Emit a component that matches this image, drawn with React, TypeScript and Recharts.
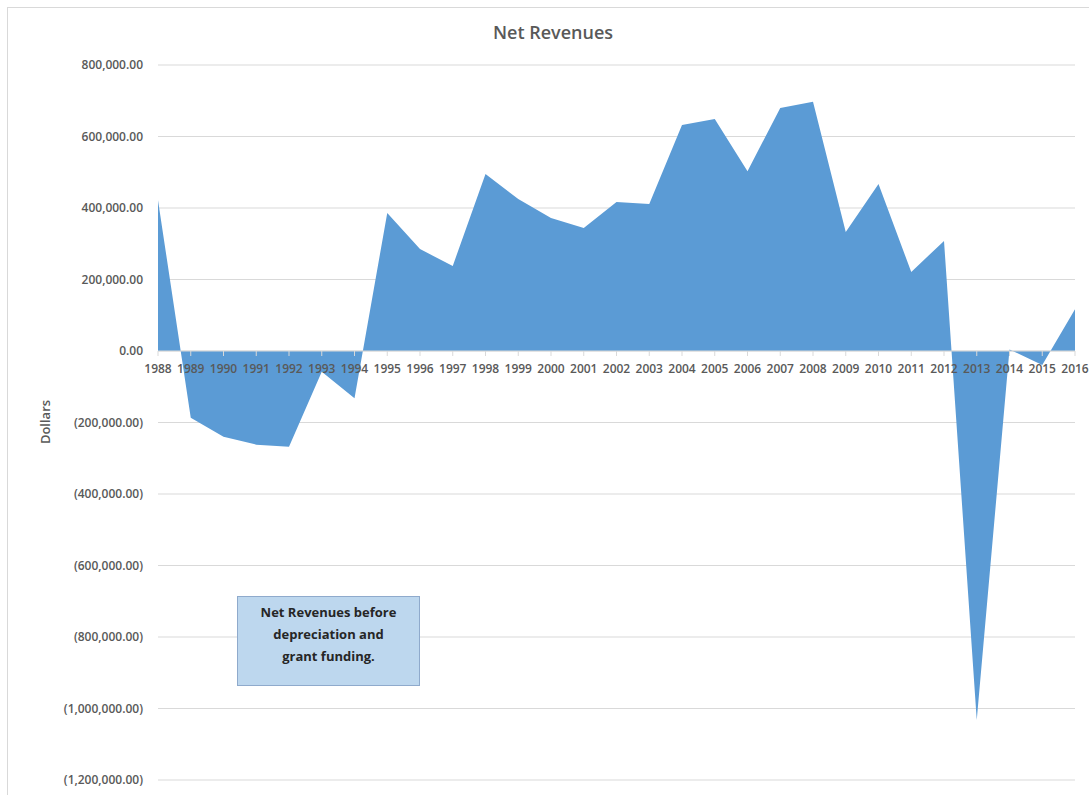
import React from "react";
import { AreaChart, Area, XAxis, YAxis, CartesianGrid, ReferenceLine, ReferenceDot } from "recharts";

const years = [
  "1988", "1989", "1990", "1991", "1992", "1993", "1994", "1995", "1996", "1997",
  "1998", "1999", "2000", "2001", "2002", "2003", "2004", "2005", "2006", "2007",
  "2008", "2009", "2010", "2011", "2012", "2013", "2014", "2015", "2016",
];
const netRevenues = [
  422000, -187000, -240000, -262000, -268000, -58000, -132000, 386000, 285000, 238000,
  495000, 425000, 372000, 344000, 417000, 411000, 632000, 649000, 503000, 680000,
  697000, 333000, 467000, 221000, 308000, -1032000, 4000, -39000, 117000,
];
const yTicks = [800000, 600000, 400000, 200000, 0, -200000, -400000, -600000, -800000, -1000000, -1200000];
const title = "Net Revenues";
const yLabel = "Dollars";
const noteLines = ["Net Revenues before", "depreciation and", "grant funding."];

const data = years.map((y, i) => ({ year: y, value: netRevenues[i] }));

const FONT = "'Open Sans', 'Noto Sans', sans-serif";
const GRAY = "#595959";

const fmt = (v: number) => {
  const s = Math.abs(v).toLocaleString("en-US", { minimumFractionDigits: 2, maximumFractionDigits: 2 });
  return v < 0 ? `(${s})` : s;
};

const YearMark = (label: string) => (props: any) => {
  const { cx, cy } = props;
  return (
    <g>
      <line x1={cx} x2={cx} y1={cy} y2={cy + 5} stroke="#d9d9d9" strokeWidth={1} />
      <text x={cx} y={cy + 22} textAnchor="middle" fontFamily={FONT} fontSize={12} fontWeight={600} fill={GRAY}>
        {label}
      </text>
    </g>
  );
};

export default function App() {
  return (
    <div style={{ position: "absolute", left: 0, top: 0, width: 1089, height: 795, overflow: "hidden", background: "#fff" }}>
      <div style={{ position: "absolute", left: 7, top: 7, width: 1100, height: 800, border: "1px solid #d9d9d9", boxSizing: "border-box" }} />
      <div style={{ position: "absolute", left: 0, top: 0 }}>
        <AreaChart width={1089} height={795} data={data} margin={{ top: 65, right: 14, bottom: 15, left: 0 }}>
          <CartesianGrid horizontal vertical={false} stroke="#d9d9d9" />
          <XAxis dataKey="year" hide />
          <YAxis
            type="number"
            domain={[-1200000, 800000]}
            ticks={yTicks}
            interval={0}
            width={158}
            axisLine={false}
            tickLine={false}
            tickSize={0}
            tickMargin={15}
            tickFormatter={fmt}
            tick={{ fontFamily: FONT, fontSize: 12, fontWeight: 600, fill: GRAY }}
          />
          <Area
            type="linear"
            dataKey="value"
            baseValue={0}
            stroke="none"
            fill="#5B9BD5"
            fillOpacity={1}
            isAnimationActive={false}
            dot={false}
            activeDot={false}
          />
          <ReferenceLine y={0} stroke="#d9d9d9" strokeWidth={1} />
          {years.map((y) => (
            <ReferenceDot key={y} x={y} y={0} r={0} shape={YearMark(y)} />
          ))}
        </AreaChart>
      </div>
      <div
        style={{
          position: "absolute",
          left: 0,
          width: 1106,
          top: 20,
          textAlign: "center",
          fontFamily: FONT,
          fontSize: 18,
          fontWeight: 600,
          color: GRAY,
        }}
      >
        {title}
      </div>
      <div
        style={{
          position: "absolute",
          left: 45,
          top: 422,
          transform: "translate(-50%, -50%) rotate(-90deg)",
          fontFamily: FONT,
          fontSize: 13,
          fontWeight: 600,
          color: GRAY,
          whiteSpace: "nowrap",
        }}
      >
        {yLabel}
      </div>
      <div
        style={{
          position: "absolute",
          left: 237,
          top: 596,
          width: 183,
          height: 90,
          boxSizing: "border-box",
          background: "#BDD7EE",
          border: "1px solid #8faacc",
          fontFamily: FONT,
          fontSize: 13,
          fontWeight: 700,
          color: "#262626",
          textAlign: "center",
          lineHeight: "22px",
          paddingTop: 4,
        }}
      >
        {noteLines.map((l) => (
          <div key={l}>{l}</div>
        ))}
      </div>
    </div>
  );
}
